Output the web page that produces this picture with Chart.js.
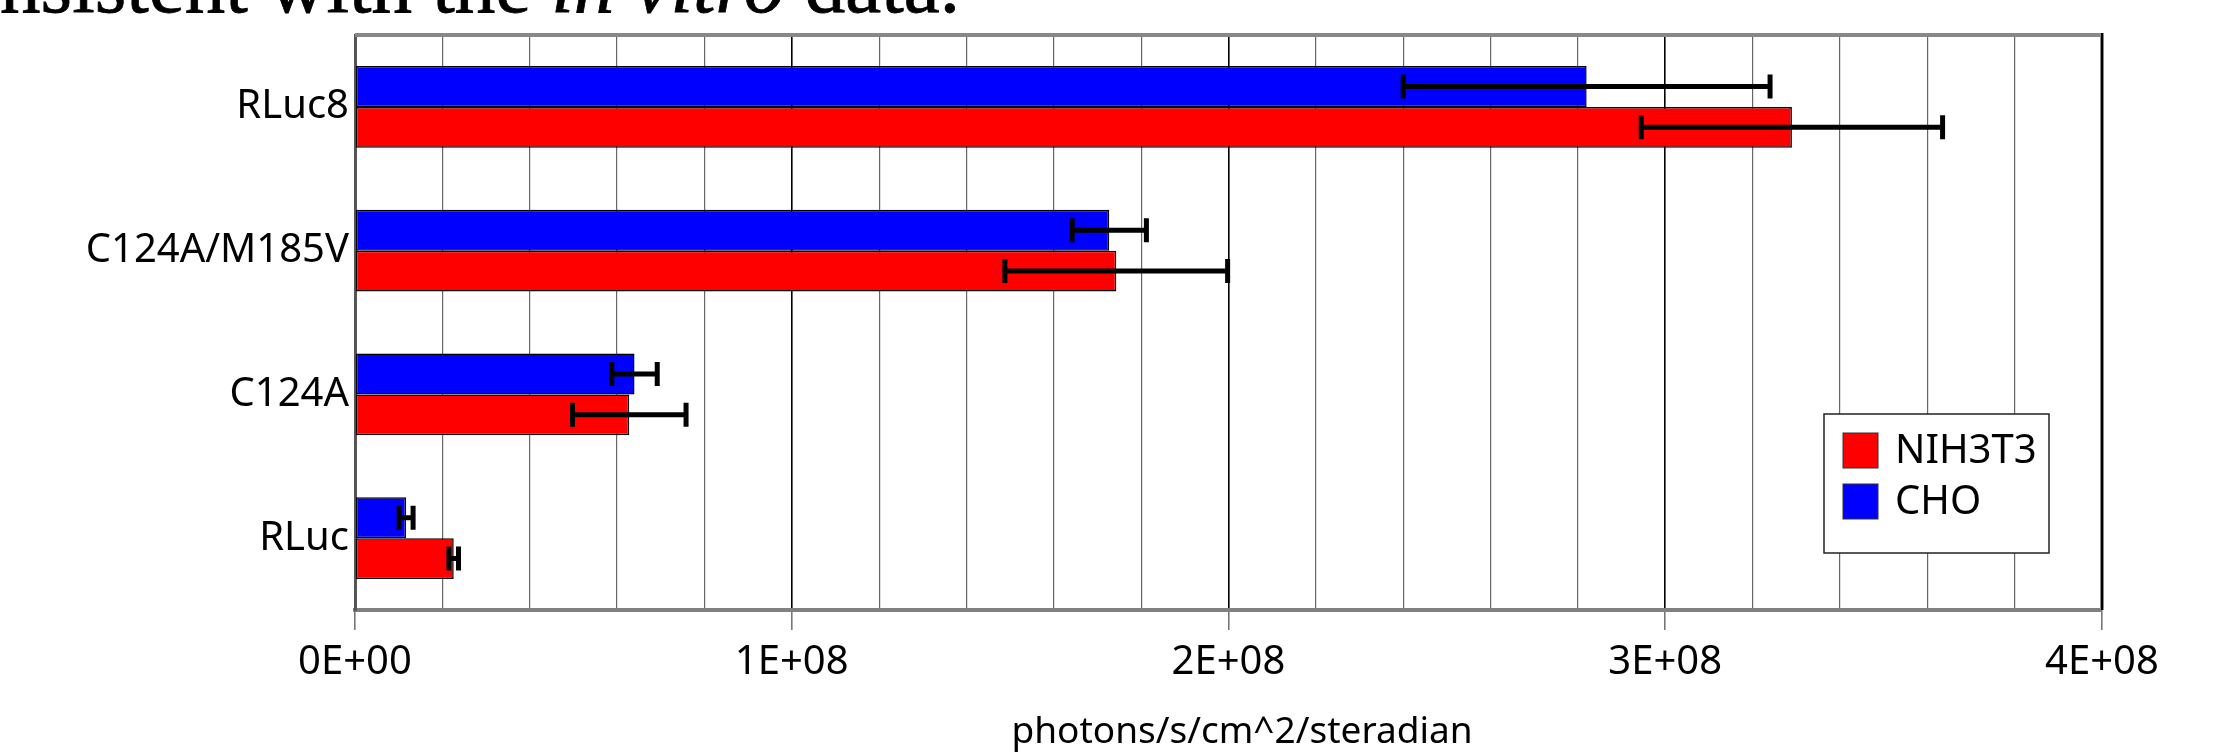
<!DOCTYPE html>
<html>
<head>
<meta charset="utf-8">
<script src="https://cdn.jsdelivr.net/npm/chart.js@4/dist/chart.umd.min.js"></script>
<style>
  html, body { margin: 0; padding: 0; background: #fff; overflow: hidden; }
  #wrap { position: relative; width: 2226px; height: 756px; }
  #caption {
    position: absolute; right: 1266px; top: -61px;
    white-space: nowrap; font-family: 'Liberation Serif', serif;
    font-size: 81px; color: #000; -webkit-text-stroke: 0.8px #000;
  }
  canvas { position: absolute; left: 0; top: 0; }
</style>
</head>
<body>
<div id="wrap">
  <div id="caption">consistent with the <i>in vitro</i> data.</div>
  <canvas id="lum-chart" width="2226" height="756"></canvas>
</div>
<script>
Chart.defaults.font.family = 'Noto Sans'
Chart.defaults.color = '#000'

const categories = ['RLuc8', 'C124A/M185V', 'C124A', 'RLuc'];
const choValues = [2.82e8, 1.727e8, 0.64e8, 0.117e8];
const choErrors = [0.42e8, 0.085e8, 0.052e8, 0.016e8];
const nihValues = [3.29e8, 1.743e8, 0.628e8, 0.226e8];
const nihErrors = [0.345e8, 0.255e8, 0.13e8, 0.011e8];
const legendItems = [
  { label: 'NIH3T3', color: '#ff0000' },
  { label: 'CHO', color: '#0000ff' }
];
const xTitle = 'photons/s/cm^2/steradian';

const isMajor = (v) => Math.abs(v % 1e8) < 1;

const fmtSci = (v) => {
  if (v === 0) return '0E+00';
  const exp = Math.floor(Math.log10(v));
  const mant = Math.round(v / Math.pow(10, exp));
  return mant + 'E+' + String(exp).padStart(2, '0');
};

// error bars drawn at the centre of each bar
const errorBars = {
  id: 'errorBars',
  afterDatasetsDraw(chart) {
    const ctx = chart.ctx;
    const x = chart.scales.x;
    chart.data.datasets.forEach((ds, i) => {
      const meta = chart.getDatasetMeta(i);
      meta.data.forEach((bar, j) => {
        const v = ds.data[j];
        const e = ds.errors[j];
        const x0 = x.getPixelForValue(v - e);
        const x1 = x.getPixelForValue(v + e);
        const y = bar.y;
        ctx.save();
        ctx.strokeStyle = '#000';
        ctx.lineWidth = 5;
        ctx.beginPath();
        ctx.moveTo(x0, y); ctx.lineTo(x1, y);
        ctx.moveTo(x0, y - 12); ctx.lineTo(x0, y + 12);
        ctx.moveTo(x1, y - 12); ctx.lineTo(x1, y + 12);
        ctx.stroke();
        ctx.restore();
      });
    });
  }
};

// top / right frame, axis title and the legend box inside the plot
const frameAndLegend = {
  id: 'frameAndLegend',
  afterDraw(chart) {
    const ctx = chart.ctx;
    const a = chart.chartArea;
    ctx.save();
    ctx.strokeStyle = '#888';
    ctx.lineWidth = 4;
    ctx.beginPath();
    ctx.moveTo(a.left, a.top); ctx.lineTo(a.right + 2, a.top);
    ctx.stroke();
    ctx.beginPath();
    ctx.moveTo(a.right, a.top - 2); ctx.lineTo(a.right, a.bottom);
    ctx.stroke();
    ctx.strokeStyle = '#000';
    ctx.lineWidth = 2;
    ctx.beginPath();
    ctx.moveTo(a.right, a.top - 2); ctx.lineTo(a.right, a.bottom);
    ctx.stroke();

    // x axis title (sits a little right of the plot centre)
    ctx.fillStyle = '#000';
    ctx.font = '37px "Noto Sans"';
    ctx.textAlign = 'center';
    ctx.textBaseline = 'alphabetic';
    ctx.fillText(xTitle, 1242, 743);

    // legend
    const bx = 1824, by = 414, bw = 225, bh = 139;
    ctx.fillStyle = '#fff';
    ctx.fillRect(bx, by, bw, bh);
    ctx.strokeStyle = '#222';
    ctx.lineWidth = 1.5;
    ctx.strokeRect(bx, by, bw, bh);
    ctx.font = '40px "Noto Sans"';
    ctx.textAlign = 'left';
    ctx.textBaseline = 'middle';
    legendItems.forEach((it, k) => {
      const sy = by + 19 + k * 51;
      ctx.fillStyle = it.color;
      ctx.fillRect(bx + 19, sy, 35, 35);
      ctx.strokeStyle = '#333';
      ctx.lineWidth = 1;
      ctx.strokeRect(bx + 19, sy, 35, 35);
      ctx.fillStyle = '#000';
      ctx.fillText(it.label, bx + 71, sy + 19);
    });
    ctx.restore();
  }
};

const ctx = document.getElementById('lum-chart').getContext('2d');
new Chart(ctx, {
  type: 'bar',
  data: {
    labels: categories,
    datasets: [
      {
        label: 'CHO',
        data: choValues,
        errors: choErrors,
        backgroundColor: '#0000ff',
        borderColor: '#000',
        borderWidth: 1.5,
        borderSkipped: false
      },
      {
        label: 'NIH3T3',
        data: nihValues,
        errors: nihErrors,
        backgroundColor: '#ff0000',
        borderColor: '#000',
        borderWidth: 1.5,
        borderSkipped: false
      }
    ]
  },
  options: {
    indexAxis: 'y',
    responsive: false,
    animation: false,
    categoryPercentage: 0.57,
    barPercentage: 1,
    layout: { padding: { top: 35, right: 124, left: 0, bottom: 0 } },
    plugins: {
      legend: { display: false },
      tooltip: { enabled: false }
    },
    scales: {
      x: {
        min: 0,
        max: 4e8,
        afterFit: (s) => { s.height = 146; },
        afterBuildTicks: (s) => {
          const t = [];
          for (let v = 0; v <= 4e8 + 1; v += 2e7) t.push({ value: v });
          s.ticks = t;
        },
        ticks: {
          autoSkip: false,
          maxRotation: 0,
          padding: 9,
          font: { size: 40 },
          callback: (v) => isMajor(v) ? fmtSci(v) : ''
        },
        grid: {
          color: (c) => isMajor(c.tick.value) ? '#000' : '#666',
          lineWidth: (c) => isMajor(c.tick.value) ? 1.6 : 1.2,
          tickLength: 20,
          tickColor: (c) => isMajor(c.tick.value) ? '#777' : 'rgba(0,0,0,0)'
        },
        border: { color: '#808080', width: 4 }
      },
      y: {
        afterFit: (s) => { s.width = 355; },
        ticks: { padding: -2, font: { size: 40 } },
        grid: { display: false },
        border: { color: '#555', width: 3 }
      }
    }
  },
  plugins: [errorBars, frameAndLegend]
});
</script>
</body>
</html>
